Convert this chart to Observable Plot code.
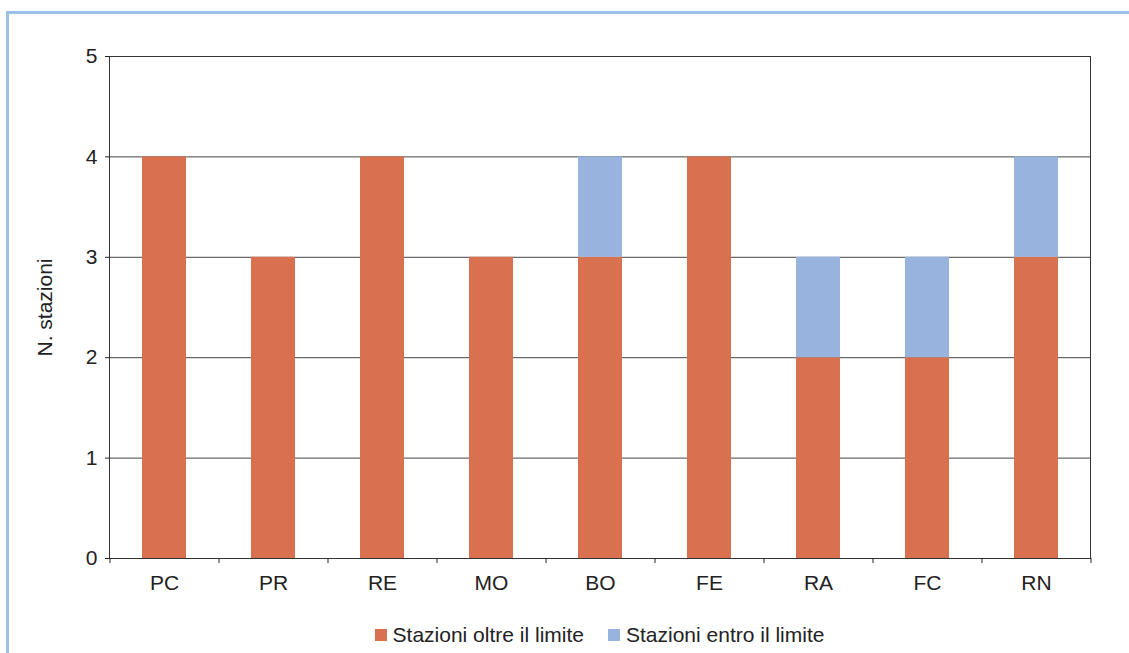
<!DOCTYPE html>
<html>
<head>
<meta charset="utf-8">
<script src="https://cdn.jsdelivr.net/npm/d3@7"></script>
<script src="https://cdn.jsdelivr.net/npm/@observablehq/plot@0.6"></script>
<style>
  html, body { margin: 0; padding: 0; background: #fff; }
  body { width: 1129px; height: 653px; overflow: hidden; position: relative; font-family: "Liberation Sans", Arial, sans-serif; }
  #frame { position: absolute; left: 6px; top: 11px; width: 1200px; height: 700px; border-left: 3px solid #9cc0e6; border-top: 3px solid #9cc0e6; }
  #chart { position: absolute; left: 0; top: 0; }
  #legend { position: absolute; left: 109px; width: 981px; top: 621px; line-height: 26px; text-align: center; font-size: 21px; color: #222; white-space: nowrap; }
  #legend span.item { display: inline-flex; align-items: center; margin: 0 12px; }
  #legend span.sw { display: inline-block; width: 12px; height: 12px; margin-right: 6px; }
</style>
</head>
<body>
<div id="frame"></div>
<div id="chart"></div>
<div id="legend"></div>
<script>
const categories = ["PC", "PR", "RE", "MO", "BO", "FE", "RA", "FC", "RN"];
const oltre = [4, 3, 4, 3, 3, 4, 2, 2, 3];
const entro = [0, 0, 0, 0, 1, 0, 1, 1, 1];
const seriesNames = ["Stazioni oltre il limite", "Stazioni entro il limite"];
const seriesColors = ["#d97050", "#97b3de"];
const yTicks = [0, 1, 2, 3, 4, 5];

const data = [];
categories.forEach((c, i) => {
  data.push({cat: c, series: seriesNames[0], value: oltre[i]});
  data.push({cat: c, series: seriesNames[1], value: entro[i]});
});

const W = 1129, H = 600;
const mL = 109, mR = 39, mT = 56, mB = 42;
const step = (W - mL - mR) / categories.length;

const plot = Plot.plot({
  width: W, height: H,
  marginLeft: mL, marginRight: mR, marginTop: mT, marginBottom: mB,
  style: {fontFamily: "'Liberation Sans', Arial, sans-serif", fontSize: "21px", color: "#222", background: "transparent"},
  x: {domain: categories, paddingInner: 0.6, paddingOuter: 0.3},
  y: {domain: [0, 5]},
  color: {domain: seriesNames, range: seriesColors},
  marks: [
    Plot.gridY(yTicks, {stroke: "#444", strokeOpacity: 1, strokeWidth: 1}),
    Plot.barY(data, Plot.stackY({x: "cat", y: "value", fill: "series", order: seriesNames})),
    Plot.ruleY([0], {stroke: "#222"}),
    Plot.frame({stroke: "#333", strokeWidth: 1}),
    Plot.ruleX(categories, {x: d => d, dx: -step / 2, y1: 0, y2: -0.05, stroke: "#222"}),
    Plot.ruleX(categories.slice(-1), {x: d => d, dx: step / 2, y1: 0, y2: -0.05, stroke: "#222"}),
    Plot.axisX({tickSize: 0, tickPadding: 17, label: null, fontSize: 21}),
    Plot.axisY(yTicks, {tickSize: 4, tickPadding: 8, tickFormat: "d", label: "N. stazioni", labelAnchor: "center", labelOffset: 72, labelArrow: "none", fontSize: 21, stroke: "#222"})
  ]
});
document.getElementById("chart").appendChild(plot);

const legend = document.getElementById("legend");
seriesNames.forEach((name, i) => {
  const item = document.createElement("span");
  item.className = "item";
  const sw = document.createElement("span");
  sw.className = "sw";
  sw.style.background = seriesColors[i];
  item.appendChild(sw);
  item.appendChild(document.createTextNode(name));
  legend.appendChild(item);
});
</script>
</body>
</html>
